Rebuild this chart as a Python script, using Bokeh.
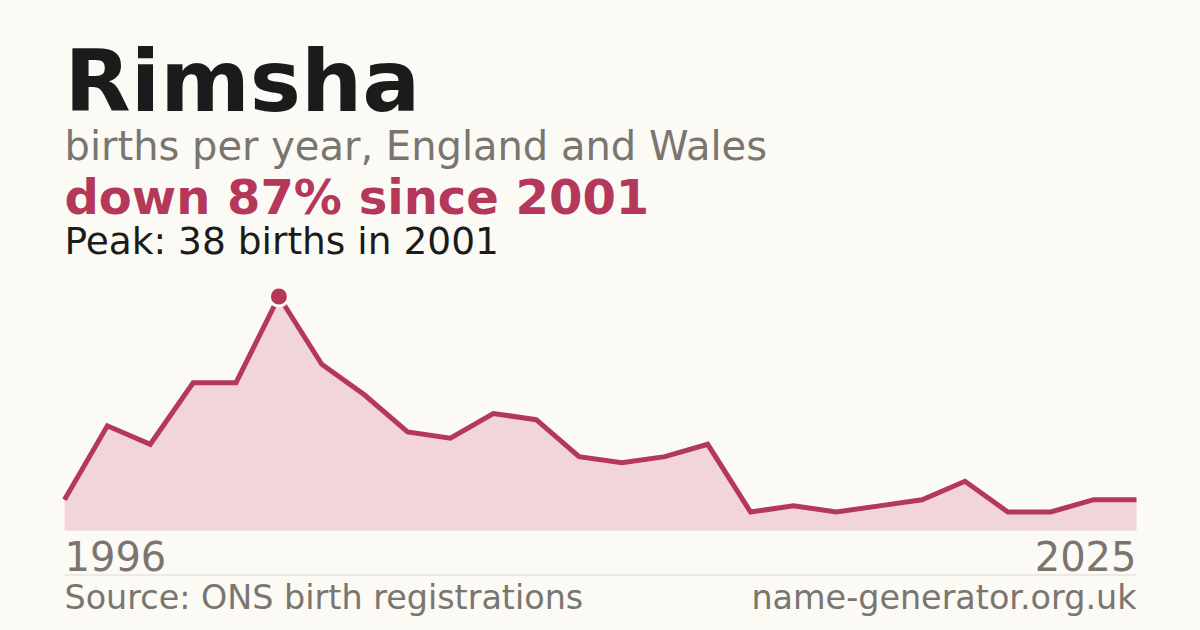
from bokeh.plotting import figure
from bokeh.models import Range1d, ColumnDataSource
from bokeh.core.properties import value
from bokeh.embed import file_html
from bokeh.resources import INLINE

# ---- data ----
years = [1996, 1997, 1998, 1999, 2000, 2001, 2002, 2003, 2004, 2005,
         2006, 2007, 2008, 2009, 2010, 2011, 2012, 2013, 2014, 2015,
         2016, 2017, 2018, 2019, 2020, 2025]
births = [5, 17, 14, 24, 24, 38, 27, 22, 16, 15,
          19, 18, 12, 11, 12, 14, 3, 4, 3, 4,
          5, 8, 3, 3, 5, 5]
first_label = "1996"
last_label = "2025"
title_text = "Rimsha"
subtitle_text = "births per year, England and Wales"
change_text = "down 87% since 2001"
peak_text = "Peak: 38 births in 2001"
source_text = "Source: ONS birth registrations"
site_text = "name-generator.org.uk"

# ---- style ----
BG = "#fbfaf5"
INK = "#1b1b1b"
GRAY = "#7a756e"
ACCENT = "#b3385a"
FILL = "#f2d5da"
RULE = "#dcd9d2"
FONT = value("DejaVu Sans")

W, H = 1200, 630
OFF = 0  # page offset of the canvas

def cx(px):
    return px - OFF

def cy(py):
    return py - OFF

# chart frame in page pixels
X_LEFT, X_RIGHT = 64, 1136
Y_BASE, Y_PEAK = 530, 296

n = len(births)
idx = list(range(n))
ppx = (X_RIGHT - X_LEFT) / (n - 1)
x0 = -(cx(X_LEFT)) / ppx
x1 = (n - 1) + (W - cx(X_RIGHT)) / ppx
vmax = max(births)
k = (Y_BASE - Y_PEAK) / vmax
v0 = -(H - cy(Y_BASE)) / k
v1 = cy(Y_BASE) / k

p = figure(width=W, height=H, x_range=Range1d(0, W), y_range=Range1d(H, 0),
           output_backend="svg", toolbar_location=None, min_border=0)
p.extra_x_ranges = {"idx": Range1d(x0, x1)}
p.extra_y_ranges = {"val": Range1d(v0, v1)}
p.axis.visible = False
p.grid.visible = False
p.outline_line_color = None
p.background_fill_color = BG
p.border_fill_color = BG

src = ColumnDataSource(dict(x=idx, y=births, zero=[0] * n, year=years))
p.varea(x="x", y1="zero", y2="y", source=src, fill_color=FILL,
        x_range_name="idx", y_range_name="val")
p.line(x="x", y="y", source=src, line_color=ACCENT, line_width=5,
       line_join="miter", x_range_name="idx", y_range_name="val")

pk = births.index(vmax)
p.scatter(x=[idx[pk]], y=[births[pk]], size=19, fill_color=ACCENT,
          line_color=BG, line_width=3, x_range_name="idx", y_range_name="val")

BASE_SHIFT = 0.37  # svg alphabetic baseline correction (fraction of em)

def txt(x, y, t, size, color, style="normal", align="left"):
    p.text(x=[cx(x)], y=[cy(y) - BASE_SHIFT * size], text=[t], text_font=FONT,
           text_font_size=f"{size}px", text_color=color,
           text_font_style=style, text_align=align,
           text_baseline="alphabetic")

txt(64, 112, title_text, 86, INK, "bold")
txt(64, 160, subtitle_text, 40, GRAY)
txt(64, 214, change_text, 48, ACCENT, "bold")
txt(64, 254, peak_text, 37.5, INK)
txt(64, 570, first_label, 40, GRAY)
txt(1136, 570, last_label, 40, GRAY, align="right")
txt(64, 609, source_text, 33.4, GRAY)
txt(1136, 609, site_text, 33.4, GRAY, align="right")

p.segment(x0=[cx(64)], y0=[cy(574.5)], x1=[cx(1136)], y1=[cy(574.5)],
          line_color=RULE, line_width=1)

html = file_html(p, INLINE)
html = html.replace("<head>", "<head><style>body{background:%s;}</style>" % BG, 1)
open("out.html", "w").write(html)
